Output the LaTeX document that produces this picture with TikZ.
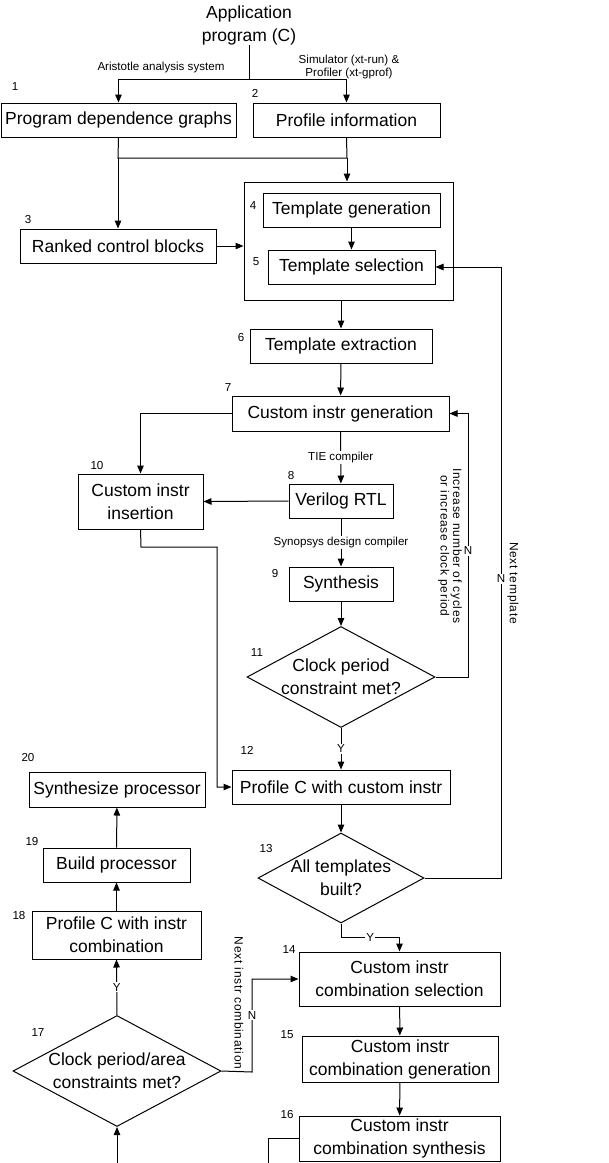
\documentclass[tikz,border=0pt]{standalone}
\usepackage{fontspec}
\setmainfont{Liberation Sans}
\newfontfamily\spacedfont[LetterSpace=6]{Liberation Sans}
\usetikzlibrary{arrows.meta}
\usetikzlibrary{shapes.geometric}
\newcommand{\bigtxt}{\fontsize{17.5}{23}\selectfont}
\newcommand{\smalltxt}{\fontsize{11.6}{12.5}\selectfont}
\newcommand{\rottxt}{\spacedfont\fontsize{12}{12.5}\selectfont}
\tikzstyle{blk}=[draw, line width=1pt, inner sep=0pt, align=center, font=\bigtxt]
\tikzstyle{dec}=[draw, diamond, line width=1pt, inner sep=0pt]
\tikzstyle{dectext}=[inner sep=0pt, align=center, font=\bigtxt]
\tikzstyle{num}=[inner sep=0pt, font=\smalltxt]
\tikzstyle{lbl}=[inner sep=1pt, fill=white, align=center, font=\smalltxt]
\tikzstyle{vlbl}=[inner sep=0pt, rotate=-90, align=center, font=\rottxt]
\tikzstyle{wire}=[line width=1pt]
\tikzstyle{link}=[-{Triangle[length=8pt, width=6.5pt]}, line width=1pt]

\begin{document}
\begin{tikzpicture}[x=1pt, y=-1pt]
    \useasboundingbox (0,0) rectangle (609,1163);

    % top of the flow
    \node[dectext] (app) at (249,25) {Application\\program (C)};
    \node[blk, minimum width=235, minimum height=34] (pdg) at (118.5,120) {Program dependence graphs};
    \node[blk, minimum width=187, minimum height=34] (prof) at (346.5,120) {Profile information};
    \node[blk, minimum width=196, minimum height=34] (ranked) at (118,246) {Ranked control blocks};
    \node[draw, line width=1pt, minimum width=209, minimum height=118] (tplbox) at (348.5,241) {};
    \node[blk, minimum width=177, minimum height=34] (tplgen) at (351.5,210) {Template generation};
    \node[blk, minimum width=167, minimum height=34] (tplsel) at (351.5,267) {Template selection};
    \node[blk, minimum width=182, minimum height=34] (tplext) at (341,346) {Template extraction};
    \node[blk, minimum width=217, minimum height=35] (cigen) at (340.5,413.5) {Custom instr generation};
    \node[blk, minimum width=125, minimum height=55] (ciins) at (140.5,501.5) {Custom instr\\insertion};
    \node[blk, minimum width=104, minimum height=34] (rtl) at (341,501) {Verilog RTL};
    \node[blk, minimum width=104, minimum height=34] (synth) at (341,584) {Synthesis};
    \node[dec, minimum width=188, minimum height=101] (clk) at (341,677) {};
    \node[dectext] (clktxt) at (clk) {Clock period\\constraint met?};
    \node[blk, minimum width=218, minimum height=34] (profci) at (341,787) {Profile C with custom instr};
    \node[dec, minimum width=166, minimum height=90] (alltpl) at (341,878) {};
    \node[dectext] (alltpltxt) at (alltpl) {All templates\\built?};

    % combination part
    \node[blk, minimum width=201, minimum height=54] (combsel) at (399.5,979) {Custom instr\\combination selection};
    \node[blk, minimum width=196, minimum height=46] (combgen) at (400,1059) {Custom instr\\combination generation};
    \node[blk, minimum width=201, minimum height=45] (combsyn) at (399.5,1138.5) {Custom instr\\combination synthesis};
    \node[dec, minimum width=208, minimum height=111] (area) at (117,1071) {};
    \node[dectext] (areatxt) at (area) {Clock period/area\\constraints met?};
    \node[blk, minimum width=169, minimum height=48] (profcomb) at (116.5,935) {Profile C with instr\\combination};
    \node[blk, minimum width=147, minimum height=34] (build) at (116.5,865) {Build processor};
    \node[blk, minimum width=176, minimum height=35] (synproc) at (117,789.5) {Synthesize processor};

    % step numbers
    \foreach \n/\x/\y in {1/15/87, 2/255/93, 3/28/220, 4/253/206, 5/256/262, 6/241/337, 7/228/388,
        8/291/475, 9/275/573, 10/97/465, 11/257/652, 12/247/750, 13/266/848, 14/289/949,
        15/287/1035, 16/287/1114, 17/38/1032, 18/19/915, 19/32/841, 20/28/757}
        \node[num] (n\n) at (\x,\y) {\n};

    % junctions and loose ends
    \coordinate (split) at (249,79);
    \coordinate (joinl) at (118,158);
    \coordinate (joinr) at (347,158);
    \coordinate (backn) at (468,677);
    \coordinate (backt) at (501,878);
    \coordinate (insa) at (141,547);
    \coordinate (insb) at (217,547);
    \coordinate (insc) at (217,787);
    \coordinate (yes13) at (341,937);
    \coordinate (back17) at (252,1072);
    \coordinate (out16a) at (268,1138.5);
    \coordinate (out16b) at (268,1163);
    \coordinate (in17) at (117,1163);

    % connectors
    \draw[wire] (app) -- (split);
    \draw[link] (split) -| (pdg.north);
    \draw[link] (split) -| (prof.north);
    \node[font=\smalltxt] (aristotle) at (161,67) {Aristotle analysis system};
    \node[font=\smalltxt, align=center, inner sep=0pt] (xtrun) at (349,67) {Simulator (xt-run) \&\\Profiler (xt-gprof)};

    \draw[wire] (pdg.south) -- (joinl) -- (joinr);
    \draw[wire] (prof.south) -- (joinr);
    \draw[link] (joinr) -- (joinr |- tplbox.north);
    \draw[link] (joinl) -- (ranked.north);
    \draw[link] (ranked.east) -- (ranked.east -| tplbox.west);
    \draw[link] (tplgen) -- (tplsel);
    \draw[link] (tplext.north |- tplbox.south) -- (tplext.north);
    \draw[link] (tplext) -- (cigen);
    \draw[link] (cigen.west) -| (ciins.north);
    \draw[link] (cigen) -- node[lbl] {TIE compiler} (rtl);
    \draw[link] (rtl.west) -- (ciins.east);
    \draw[link] (rtl) -- node[lbl] {Synopsys design compiler} (synth);
    \draw[link] (synth) -- (clk.north);
    \draw[link] (clk.east) -- (backn) |- node[lbl, pos=0.24] {N} (cigen.east);
    \node[vlbl] (increase) at (450,546) {Increase number of cycles\\or increase clock period};
    \draw[link] (clk.south) -- node[lbl] {Y} (profci.north);
    \draw[link] (ciins.south) -- (insa) -- (insb) -- (insc) -- (profci.west);
    \draw[link] (profci) -- (alltpl.north);
    \draw[link] (alltpl.east) -- (backt) |- node[lbl, pos=0.245] {N} (tplsel.east);
    \node[vlbl] (nexttpl) at (513,583) {Next template};
    \draw[link] (alltpl.south) -- (yes13) -| node[lbl, pos=0.25] {Y} (combsel.north);
    \draw[link] (combsel) -- (combgen);
    \draw[link] (combgen) -- (combsyn);
    \draw[wire] (combsyn.west) -- (out16a) -- (out16b);
    \draw[link] (in17) -- (area.south);
    \draw[link] (area.north) -- node[lbl] {Y} (profcomb.south);
    \draw[link] (profcomb) -- (build);
    \draw[link] (build) -- (synproc);
    \draw[link] (area.east) -- (back17) |- node[lbl, pos=0.306] {N} (combsel.west);
    \node[vlbl] (nextcomb) at (239,1003) {Next instr combination};

\end{tikzpicture}
\end{document}
